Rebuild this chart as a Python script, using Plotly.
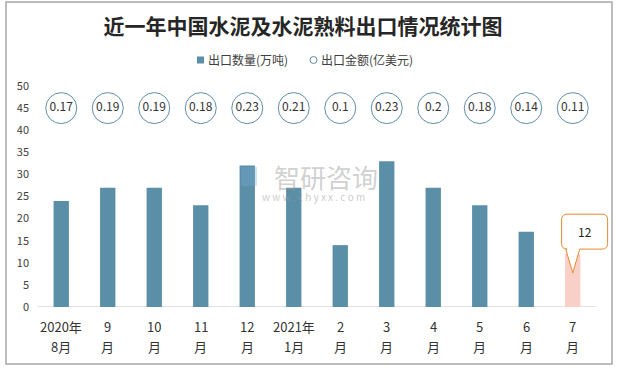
import plotly.graph_objects as go

months_top = ["2020年", "9", "10", "11", "12", "2021年", "2", "3", "4", "5", "6", "7"]
months_bot = ["8月", "月", "月", "月", "月", "1月", "月", "月", "月", "月", "月", "月"]
volume = [24, 27, 27, 23, 32, 27, 14, 33, 27, 23, 17, 12]   # 出口数量(万吨)
amount = [0.17, 0.19, 0.19, 0.18, 0.23, 0.21, 0.1, 0.23, 0.2, 0.18, 0.14, 0.11]  # 出口金额(亿美元)
y_ticks = [0, 5, 10, 15, 20, 25, 30, 35, 40, 45, 50]
series_names = ["出口数量(万吨)", "出口金额(亿美元)"]

FONT = "Noto Sans CJK SC"
BAR = "#5b8fa8"
LAST = "#f8d0c7"
CIRC = "#5f8fa6"
idx = list(range(len(months_top)))
label_row = 45

W, H = 619, 368
L, R, T, B = 38, 6, 86, 61
PW, PH = W - L - R, H - T - B
XR = [-0.5, len(idx) - 0.5 + 17 / 46.5]


def px(x):  # pixel x -> paper
    return (x - L) / PW


def py(y):  # pixel y -> paper
    return (H - B - y) / PH


bar_colors = [BAR] * (len(volume) - 1) + [LAST]

fig = go.Figure()
fig.add_trace(go.Bar(x=idx, y=volume, name=series_names[0], width=0.33,
                     marker=dict(color=bar_colors, line=dict(width=0))))
fig.add_trace(go.Scatter(x=idx, y=[label_row] * len(amount), mode="markers+text",
                         name=series_names[1],
                         text=[str(a) for a in amount], textposition="middle center",
                         textfont=dict(family=FONT, size=12, color="#333333"),
                         marker=dict(symbol="circle", size=31, color="white",
                                     line=dict(color=CIRC, width=1)),
                         cliponaxis=False))

# baseline
fig.add_shape(type="line", xref="x", yref="y", x0=-0.5, x1=len(idx) - 0.5, y0=0, y1=0,
              line=dict(color="#d9d9d9", width=1.5), layer="below")

# x category labels (two lines)
for i in idx:
    fig.add_annotation(x=i, y=py(326), xref="x", yref="paper", text=months_top[i], showarrow=False,
                       yanchor="middle", font=dict(family=FONT, size=13, color="#333333"))
    fig.add_annotation(x=i, y=py(346), xref="x", yref="paper", text=months_bot[i], showarrow=False,
                       yanchor="middle", font=dict(family=FONT, size=13, color="#333333"))

# manual legend
fig.add_shape(type="rect", xref="paper", yref="paper", x0=px(197), x1=px(204), y0=py(63.5), y1=py(56.5),
              fillcolor=BAR, line=dict(width=0))
fig.add_annotation(x=px(206), y=py(60), xref="paper", yref="paper", text=series_names[0],
                   showarrow=False, xanchor="left", yanchor="middle",
                   font=dict(family=FONT, size=12, color="#404040"))
fig.add_shape(type="circle", xref="paper", yref="paper", x0=px(310), x1=px(317), y0=py(63.5), y1=py(56.5),
              fillcolor="white", line=dict(color=CIRC, width=1))
fig.add_annotation(x=px(319), y=py(60), xref="paper", yref="paper", text=series_names[1],
                   showarrow=False, xanchor="left", yanchor="middle",
                   font=dict(family=FONT, size=12, color="#404040"))

# callout for last bar
lx = idx[-1]
x0, x1 = lx - 0.24, lx + 0.75
ytop, ybot = volume[-1] + 9.0, volume[-1] + 1.1
tip = volume[-1] - 4.3
rx, ry = 0.12, 1.3
path = (f"M {x0+rx},{ytop} L {x1-rx},{ytop} Q {x1},{ytop} {x1},{ytop-ry} "
        f"L {x1},{ybot+ry} Q {x1},{ybot} {x1-rx},{ybot} "
        f"L {lx+0.15},{ybot} L {lx},{tip} L {lx-0.15},{ybot} "
        f"L {x0+rx},{ybot} Q {x0},{ybot} {x0},{ybot+ry} "
        f"L {x0},{ytop-ry} Q {x0},{ytop} {x0+rx},{ytop} Z")
fig.add_shape(type="path", path=path, xref="x", yref="y",
              line=dict(color="#e8892e", width=1), fillcolor="white", layer="above")
fig.add_annotation(x=(x0 + x1) / 2, y=(ytop + ybot) / 2, xref="x", yref="y",
                   text=str(volume[-1]), showarrow=False,
                   font=dict(family=FONT, size=12, color="#222222"))

# watermark
fig.add_shape(type="rect", xref="paper", yref="paper", x0=px(241), x1=px(257), y0=py(186), y1=py(167),
              fillcolor="rgba(120,170,210,0.35)", line=dict(width=0))
fig.add_annotation(x=px(326), y=py(176), xref="paper", yref="paper", text="智研咨询", showarrow=False,
                   font=dict(family=FONT, size=26, color="rgba(150,150,150,0.45)"))
fig.add_annotation(x=px(313), y=py(196), xref="paper", yref="paper",
                   text="w w w . c h y x x . c o m", showarrow=False,
                   font=dict(family=FONT, size=10, color="rgba(150,150,150,0.5)"))

# outer border
fig.add_shape(type="rect", xref="paper", yref="paper", x0=px(6), x1=px(612), y0=py(364), y1=py(2),
              line=dict(color="#a6a6a6", width=1.5), layer="below")

fig.update_layout(
    width=W, height=H,
    margin=dict(l=L, r=R, t=T, b=B),
    paper_bgcolor="white", plot_bgcolor="white",
    title=dict(text="<b>近一年中国水泥及水泥熟料出口情况统计图</b>", x=px(303), xanchor="center",
               xref="paper", y=1 - 27 / H, yanchor="middle",
               font=dict(family=FONT, size=21, color="#262626")),
    showlegend=False,
    xaxis=dict(range=XR, showticklabels=False,
               showgrid=False, zeroline=False, showline=False, ticks=""),
    yaxis=dict(tickmode="array", tickvals=y_ticks, range=[0, 50], showgrid=False,
               zeroline=False, showline=False, ticks="", ticklabelstandoff=8,
               tickfont=dict(family=FONT, size=11, color="#404040")),
)

fig.write_html("out.html", config={"displayModeBar": False},
               post_script="document.body.style.margin='0';document.body.style.overflow='hidden';")
